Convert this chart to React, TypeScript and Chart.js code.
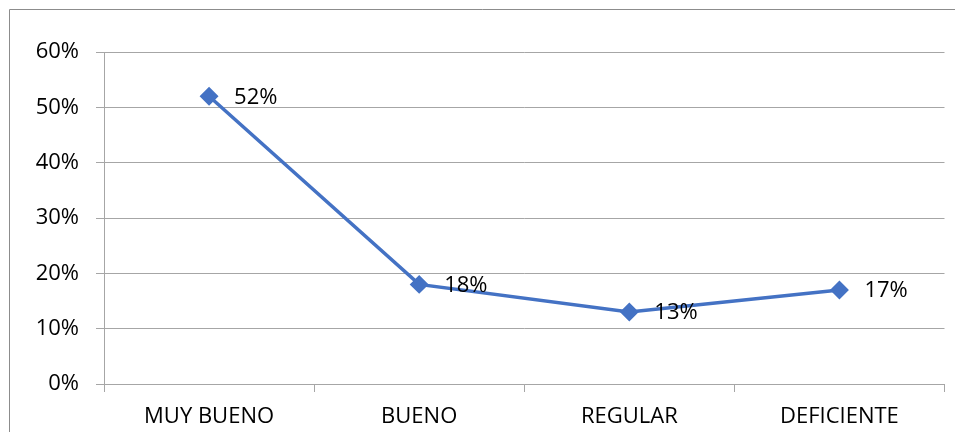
import React, { useEffect, useRef } from "react";
import { Chart, registerables } from "chart.js";

Chart.register(...registerables);

const categories = ["MUY BUENO", "BUENO", "REGULAR", "DEFICIENTE"];
const values = [52, 18, 13, 17];
const yTicks = [0, 10, 20, 30, 40, 50, 60];

const FONT = "'Open Sans', 'Noto Sans', sans-serif";
const BLUE = "#4472C4";
const GRID = "#a6a6a6";

const framePlugin = {
  id: "frame",
  beforeDraw(chart: any) {
    const ctx = chart.ctx;
    ctx.save();
    ctx.strokeStyle = "#8c8c8c";
    ctx.lineWidth = 1;
    ctx.beginPath();
    ctx.moveTo(9.5, 432);
    ctx.lineTo(9.5, 9.5);
    ctx.lineTo(955, 9.5);
    ctx.stroke();
    ctx.restore();
  },
};

const labelPlugin = {
  id: "pointLabels",
  afterDatasetsDraw(chart: any) {
    const ctx = chart.ctx;
    const meta = chart.getDatasetMeta(0);
    ctx.save();
    ctx.fillStyle = "#000";
    ctx.font = `22px ${FONT}`;
    ctx.textAlign = "left";
    ctx.textBaseline = "middle";
    meta.data.forEach((pt: any, i: number) => {
      ctx.fillText(`${values[i]}%`, pt.x + 25, pt.y + 1);
    });
    ctx.restore();
  },
};

export default function App() {
  const ref = useRef<HTMLCanvasElement | null>(null);
  useEffect(() => {
    if (!ref.current) return;
    const chart = new Chart(ref.current, {
      type: "line",
      data: {
        labels: categories,
        datasets: [
          {
            data: values,
            borderColor: BLUE,
            backgroundColor: BLUE,
            borderWidth: 3.5,
            pointStyle: "rectRot",
            pointRadius: 7,
            pointHoverRadius: 7,
            pointBackgroundColor: BLUE,
            pointBorderColor: BLUE,
            tension: 0,
          },
        ],
      },
      options: {
        animation: false,
        responsive: false,
        maintainAspectRatio: false,
        events: [],
        layout: { padding: { top: 52, right: 9, left: 0, bottom: 0 } },
        plugins: { legend: { display: false }, tooltip: { enabled: false } },
        scales: {
          x: {
            type: "category",
            offset: true,
            afterFit(scale: any) {
              scale.height = 48;
            },
            grid: {
              offset: true,
              drawOnChartArea: false,
              drawTicks: true,
              tickLength: 8,
              color: GRID,
              lineWidth: 1,
            },
            border: { display: true, color: GRID, width: 1 },
            ticks: {
              color: "#000",
              font: { family: FONT, size: 22 },
              padding: 12,
              maxRotation: 0,
            },
          },
          y: {
            min: 0,
            max: 60,
            afterFit(scale: any) {
              scale.width = 104;
            },
            afterBuildTicks(scale: any) {
              scale.ticks = yTicks.map((v) => ({ value: v }));
            },
            grid: {
              color: GRID,
              lineWidth: 1,
              tickLength: 8,
              drawTicks: true,
            },
            border: { display: true, color: GRID, width: 1 },
            ticks: {
              color: "#000",
              font: { family: FONT, size: 22 },
              padding: 17,
              callback: (v: any) => `${v}%`,
            },
          },
        },
      },
      plugins: [framePlugin, labelPlugin],
    });
    return () => chart.destroy();
  }, []);
  return (
    <div style={{ position: "absolute", left: 0, top: 0, width: 955, height: 432, background: "#fff" }}>
      <canvas ref={ref} width={955} height={432} style={{ width: 955, height: 432, display: "block" }} />
    </div>
  );
}
